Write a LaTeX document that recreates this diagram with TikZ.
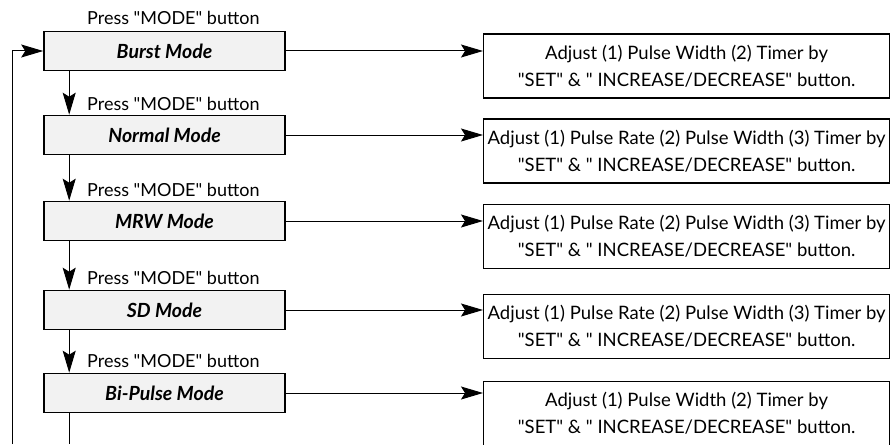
\documentclass[tikz,border=0pt]{standalone}
\usepackage{fontspec}
\setmainfont{Lato}
\usetikzlibrary{positioning, arrows.meta}

\begin{document}
\begin{tikzpicture}[x=1pt, y=-1pt,
    mode/.style={draw, line width=1.6pt, fill=gray!10, minimum width=241pt, minimum height=39pt,
                 inner sep=0pt, font=\fontsize{19.5}{22}\selectfont\bfseries\itshape},
    info/.style={draw, line width=1.2pt, minimum width=406pt, minimum height=64pt, anchor=west,
                 align=center, inner sep=0pt, font=\fontsize{18.5}{27}\selectfont},
    press/.style={anchor=base west, inner sep=0pt, font=\fontsize{18}{20}\selectfont},
    arr/.style={-{Stealth[length=22pt, width=13pt, inset=4pt]}, line width=1pt}
]
\useasboundingbox (0,0) rectangle (890,444);

% mode boxes
\node[mode] (burst)  at (164.5, 51)  {Burst Mode};
\node[mode] (normal) at (164.5, 135) {Normal Mode};
\node[mode] (mrw)    at (164.5, 221) {MRW Mode};
\node[mode] (sd)     at (164.5, 310) {SD Mode};
\node[mode] (bipulse) at (164.5, 393) {Bi-Pulse Mode};

% press labels
\node[press] (p0) at (87, 25)  {Press \textquotedbl MODE\textquotedbl\ button};
\node[press] (p1) at (87, 110) {Press \textquotedbl MODE\textquotedbl\ button};
\node[press] (p2) at (87, 196) {Press \textquotedbl MODE\textquotedbl\ button};
\node[press] (p3) at (87, 284) {Press \textquotedbl MODE\textquotedbl\ button};
\node[press] (p4) at (87, 367) {Press \textquotedbl MODE\textquotedbl\ button};

% adjust boxes
\newcommand\setline{\textquotedbl SET\textquotedbl\ \& \textquotedbl\ INCREASE/DECREASE\textquotedbl\ button.}
\node[info] (adj0) at (483, 66)    {Adjust (1) Pulse Width (2) Timer by\\\setline};
\node[info] (adj1) at (483, 151)   {Adjust (1) Pulse Rate (2) Pulse Width (3) Timer by\\\setline};
\node[info] (adj2) at (483, 236.5) {Adjust (1) Pulse Rate (2) Pulse Width (3) Timer by\\\setline};
\node[info] (adj3) at (483, 326.5) {Adjust (1) Pulse Rate (2) Pulse Width (3) Timer by\\\setline};
\node[info] (adj4) at (483, 413.5) {Adjust (1) Pulse Width (2) Timer by\\\setline};

% mode to mode
\draw[arr] ([xshift=26pt]burst.south west)  -- ([xshift=26pt]normal.north west);
\draw[arr] ([xshift=26pt]normal.south west) -- ([xshift=26pt]mrw.north west);
\draw[arr] ([xshift=26pt]mrw.south west)    -- ([xshift=26pt]sd.north west);
\draw[arr] ([xshift=26pt]sd.south west)     -- ([xshift=26pt]bipulse.north west);

% mode to adjust
\draw[arr] (burst.east)   -- (burst.east -| adj0.west);
\draw[arr] (normal.east)  -- (normal.east -| adj1.west);
\draw[arr] (mrw.east)     -- (mrw.east -| adj2.west);
\draw[arr] (sd.east)      -- (sd.east -| adj3.west);
\draw[arr] (bipulse.east) -- (bipulse.east -| adj4.west);

% back to burst
\coordinate (back) at (12, 444);
\draw[line width=1pt] ([xshift=26pt]bipulse.south west) -- ([xshift=26pt]bipulse.south west |- back);
\draw[arr] (back) |- (burst.west);
\end{tikzpicture}
\end{document}
